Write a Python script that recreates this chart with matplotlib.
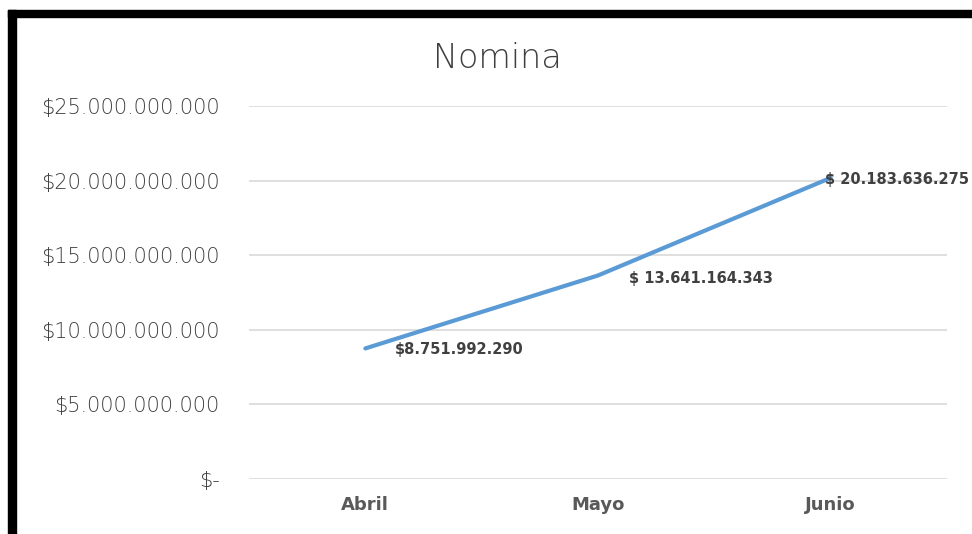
import matplotlib
matplotlib.use("Agg")
import matplotlib.pyplot as plt
from matplotlib.ticker import FuncFormatter
from matplotlib.patches import Rectangle

meses = ["Abril", "Mayo", "Junio"]
nomina = [8751992290, 13641164343, 20183636275]
etiquetas = ["$8.751.992.290", "$ 13.641.164.343", "$ 20.183.636.275"]
yticks = [0, 5e9, 10e9, 15e9, 20e9, 25e9]

plt.rcParams["font.family"] = ["DejaVu Sans"]

fig = plt.figure(figsize=(9.72, 5.34), dpi=100)
ax = fig.add_axes([249 / 972, 1 - 479 / 534, 698 / 972, (479 - 106) / 534])

x = list(range(len(meses)))
ax.plot(x, nomina, color="#5B9BD5", linewidth=3, solid_capstyle="round", zorder=3)

# etiquetas de datos
estilo = dict(textcoords="offset points", ha="left", va="center",
              fontsize=10.5, fontweight="bold", color="#404040")
ax.annotate(etiquetas[0], (x[0], nomina[0]), xytext=(21, -1), **estilo)
ax.annotate(etiquetas[1], (x[1], nomina[1]), xytext=(22, -2), **estilo)
ax.annotate(etiquetas[2], (x[2], nomina[2]), xytext=(-4, -1), **estilo)

def fmt(v, pos):
    if v == 0:
        return "$-"
    return "$" + f"{int(v):,}".replace(",", ".")

ax.set_ylim(0, 25e9)
ax.set_xlim(-0.5, 2.5)
ax.set_yticks(yticks)
ax.yaxis.set_major_formatter(FuncFormatter(fmt))
ax.set_xticks(x)
ax.set_xticklabels(meses, fontweight="bold")
ax.grid(axis="y", color="#D9D9D9", linewidth=1.2)
ax.set_axisbelow(True)
for s in ax.spines.values():
    s.set_visible(False)
ax.tick_params(axis="y", length=0, pad=21, labelsize=15, labelcolor="#3f3f3f")
for t in ax.get_yticklabels():
    t.set_fontweight("light")
ax.tick_params(axis="x", length=0, pad=12, labelsize=13, labelcolor="#595959")

fig.text(497 / 972, 1 - 58 / 534, "Nomina", ha="center", va="center",
         fontsize=24, color="#3f3f3f", fontweight="light")

# marco negro del recorte
fig.patches.append(Rectangle((8 / 972, 0), 8 / 972, 1 - 10 / 534, transform=fig.transFigure,
                             color="black", zorder=10))
fig.patches.append(Rectangle((8 / 972, 1 - 17 / 534), 1, 7 / 534, transform=fig.transFigure,
                             color="black", zorder=10))

fig.savefig("out.png", dpi=100)
